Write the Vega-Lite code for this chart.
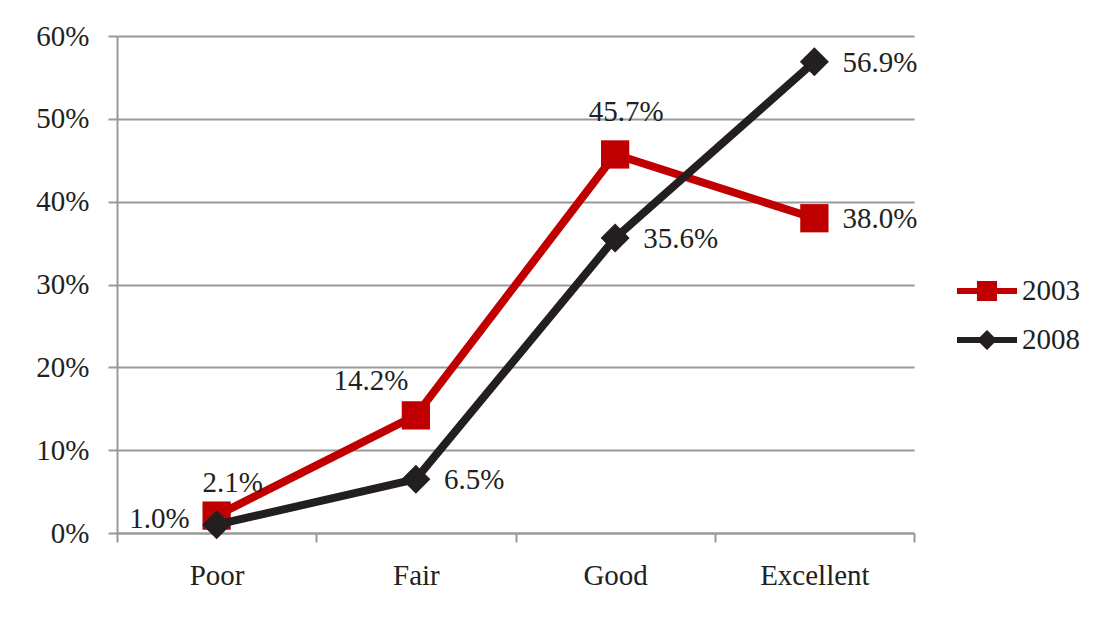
{
  "$schema": "https://vega.github.io/schema/vega-lite/v6.json",
  "width": 797,
  "height": 497,
  "autosize": {"type": "none"},
  "padding": {"left": 117, "top": 36, "right": 183, "bottom": 89},
  "background": "white",
  "config": {
    "view": {"stroke": null},
    "font": "Liberation Serif",
    "text": {"font": "Liberation Serif", "fontSize": 29, "color": "#231F20", "baseline": "middle"}
  },
  "data": {
    "values": [
      {"rating": "Poor", "series": "2003", "value": 0.021},
      {"rating": "Fair", "series": "2003", "value": 0.142},
      {"rating": "Good", "series": "2003", "value": 0.457},
      {"rating": "Excellent", "series": "2003", "value": 0.380},
      {"rating": "Poor", "series": "2008", "value": 0.010},
      {"rating": "Fair", "series": "2008", "value": 0.065},
      {"rating": "Good", "series": "2008", "value": 0.356},
      {"rating": "Excellent", "series": "2008", "value": 0.569}
    ]
  },
  "encoding": {
    "x": {
      "field": "rating", "type": "nominal",
      "sort": ["Poor", "Fair", "Good", "Excellent"],
      "scale": {"type": "band", "paddingInner": 0, "paddingOuter": 0},
      "axis": {
        "title": null, "labelAngle": 0, "tickBand": "extent", "grid": false,
        "domainColor": "#999999", "domainWidth": 2, "tickColor": "#999999", "tickWidth": 2, "tickSize": 9,
        "labelFont": "Liberation Serif", "labelFontSize": 29, "labelPadding": 19, "labelColor": "#231F20"
      }
    },
    "y": {
      "field": "value", "type": "quantitative",
      "scale": {"domain": [0, 0.6], "nice": false},
      "axis": {
        "title": null, "values": [0, 0.1, 0.2, 0.3, 0.4, 0.5, 0.6], "format": ".0%",
        "grid": true, "gridColor": "#999999", "gridWidth": 2,
        "domainColor": "#999999", "domainWidth": 2, "tickColor": "#999999", "tickWidth": 2, "tickSize": 9,
        "labelFont": "Liberation Serif", "labelFontSize": 29, "labelPadding": 19, "labelColor": "#231F20"
      }
    }
  },
  "layer": [
    {
      "transform": [{"filter": "datum.series === '2003'"}],
      "mark": {"type": "line", "strokeWidth": 8, "color": "#C00000"}
    },
    {
      "transform": [{"filter": "datum.series === '2003'"}],
      "mark": {"type": "point", "shape": "square", "filled": true, "size": 800, "color": "#C00000", "opacity": 1}
    },
    {
      "transform": [{"filter": "datum.series === '2008'"}],
      "mark": {"type": "line", "strokeWidth": 8, "color": "#231F20"}
    },
    {
      "transform": [{"filter": "datum.series === '2008'"}],
      "mark": {"type": "point", "shape": "diamond", "filled": true, "size": 841, "color": "#231F20", "opacity": 1}
    },
    {
      "transform": [{"filter": "datum.series === 'none'"}],
      "mark": {"type": "point", "filled": true, "opacity": 1},
      "encoding": {
        "color": {"field": "series", "type": "nominal", "scale": {"domain": ["2003", "2008"], "range": ["#C00000", "#231F20"]},
          "legend": {"title": null, "orient": "none", "legendX": 855, "legendY": 240, "symbolSize": 900, "labelFont": "Liberation Serif", "labelFontSize": 29, "labelColor": "#231F20", "labelOffset": 20, "rowPadding": 19, "symbolStrokeWidth": 0, "padding": 0}},
        "shape": {"field": "series", "type": "nominal", "scale": {"domain": ["2003", "2008"], "range": ["M-2,-0.2H2V0.2H-2Z M-0.67,-0.67H0.67V0.67H-0.67Z", "M-2,-0.2H2V0.2H-2Z M0,-0.67L0.67,0L0,0.67L-0.67,0Z"]},
          "legend": {"title": null, "orient": "none", "legendX": 855, "legendY": 240, "symbolSize": 900, "labelFont": "Liberation Serif", "labelFontSize": 29, "labelColor": "#231F20", "labelOffset": 20, "rowPadding": 19, "symbolStrokeWidth": 0, "padding": 0}}
      }
    },
    {
      "transform": [{"filter": "(datum.series === '2003' && datum.rating === 'Excellent') || (datum.series === '2008' && datum.rating !== 'Poor')"}],
      "mark": {"type": "text", "align": "left", "dx": 28, "dy": 1},
      "encoding": {"text": {"field": "value", "type": "quantitative", "format": ".1%"}}
    },
    {
      "transform": [{"filter": "datum.series === '2003' && datum.rating === 'Poor'"}],
      "mark": {"type": "text", "align": "center", "dx": 16, "dy": -33},
      "encoding": {"text": {"field": "value", "type": "quantitative", "format": ".1%"}}
    },
    {
      "transform": [{"filter": "datum.series === '2003' && datum.rating === 'Fair'"}],
      "mark": {"type": "text", "align": "center", "dx": -45, "dy": -34},
      "encoding": {"text": {"field": "value", "type": "quantitative", "format": ".1%"}}
    },
    {
      "transform": [{"filter": "datum.series === '2003' && datum.rating === 'Good'"}],
      "mark": {"type": "text", "align": "center", "dx": 11, "dy": -42},
      "encoding": {"text": {"field": "value", "type": "quantitative", "format": ".1%"}}
    },
    {
      "transform": [{"filter": "datum.series === '2008' && datum.rating === 'Poor'"}],
      "mark": {"type": "text", "align": "right", "dx": -27, "dy": -6},
      "encoding": {"text": {"field": "value", "type": "quantitative", "format": ".1%"}}
    }
  ]
}
